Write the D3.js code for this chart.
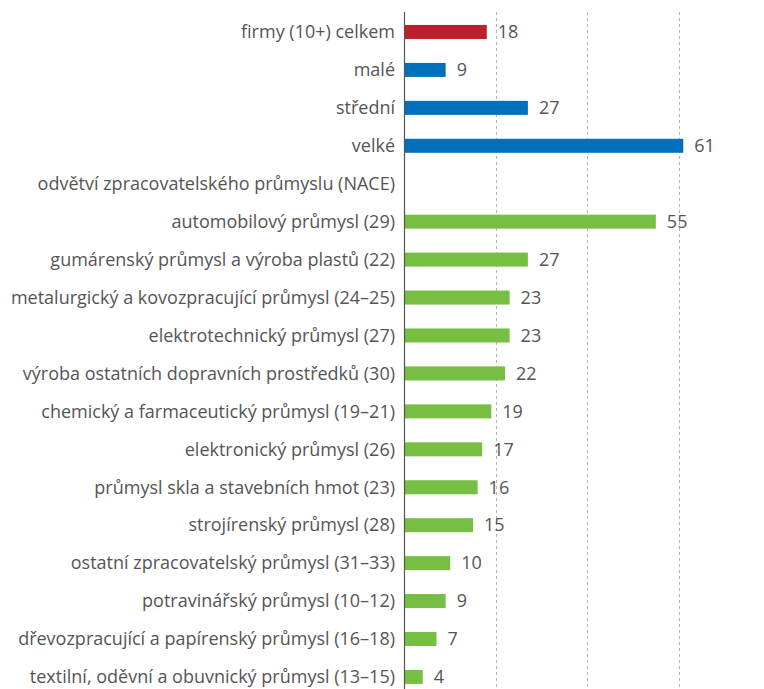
<!DOCTYPE html>
<html><head><meta charset="utf-8">
<script src="https://cdn.jsdelivr.net/npm/d3@7"></script>
<style>body{margin:0;background:#fff}svg{display:block}</style>
</head><body>
<svg id="c" width="764" height="689"></svg>
<script>
const categories = [
  "firmy (10+) celkem","malé","střední","velké",
  "odvětví zpracovatelského průmyslu (NACE)",
  "automobilový průmysl (29)",
  "gumárenský průmysl a výroba plastů (22)",
  "metalurgický a kovozpracující průmysl (24–25)",
  "elektrotechnický průmysl (27)",
  "výroba ostatních dopravních prostředků (30)",
  "chemický a farmaceutický průmysl (19–21)",
  "elektronický průmysl (26)",
  "průmysl skla a stavebních hmot (23)",
  "strojírenský průmysl (28)",
  "ostatní zpracovatelský průmysl (31–33)",
  "potravinářský průmysl (10–12)",
  "dřevozpracující a papírenský průmysl (16–18)",
  "textilní, oděvní a obuvnický průmysl (13–15)"
];
const values = [18,9,27,61,null,55,27,23,23,22,19,17,16,15,10,9,7,4];
const groups = ["total","size","size","size","header","nace","nace","nace","nace","nace","nace","nace","nace","nace","nace","nace","nace","nace"];
const gridTicks = [20,40,60,80];

const colors = {total:"#be1e2d", size:"#0070bc", nace:"#76bf43"};
const svg = d3.select("#c");
const x0 = 404.5;
const x = d3.scaleLinear().domain([0,80]).range([x0, x0 + 80*4.57]);
const y = d3.scaleBand().domain(categories).range([13, 13+18*37.94]);
const barH = 14;

svg.append("g").selectAll("line").data(gridTicks).join("line")
  .attr("x1", d=>Math.round(x(d))+0.5).attr("x2", d=>Math.round(x(d))+0.5)
  .attr("y1", 12).attr("y2", 689)
  .attr("stroke", "#b3b3b3").attr("stroke-width", 1).attr("stroke-dasharray", "3,3");

const data = categories.map((c,i)=>({c, v:values[i], g:groups[i]}));

svg.append("g").selectAll("rect").data(data.filter(d=>d.v!=null)).join("rect")
  .attr("x", x(0)).attr("y", d=>y(d.c)+y.bandwidth()/2-barH/2)
  .attr("width", d=>x(d.v)-x(0)).attr("height", barH)
  .attr("fill", d=>colors[d.g]);

svg.append("line").attr("x1", x0).attr("x2", x0).attr("y1", 12).attr("y2", 689)
  .attr("stroke", "#555").attr("stroke-width", 1.2);

const font = "'Open Sans', sans-serif";
svg.append("g").selectAll("text").data(data).join("text")
  .attr("x", 395).attr("y", d=>y(d.c)+y.bandwidth()/2)
  .attr("dy", "0.35em").attr("text-anchor", "end")
  .attr("font-family", font).attr("font-size", 18).attr("font-weight", 400)
  .attr("fill", "#555").text(d=>d.c);

svg.append("g").selectAll("text").data(data.filter(d=>d.v!=null)).join("text")
  .attr("x", d=>x(d.v)+11).attr("y", d=>y(d.c)+y.bandwidth()/2)
  .attr("dy", "0.35em")
  .attr("font-family", font).attr("font-size", 18).attr("font-weight", 400)
  .attr("fill", "#555").text(d=>d.v);
</script>
</body></html>
